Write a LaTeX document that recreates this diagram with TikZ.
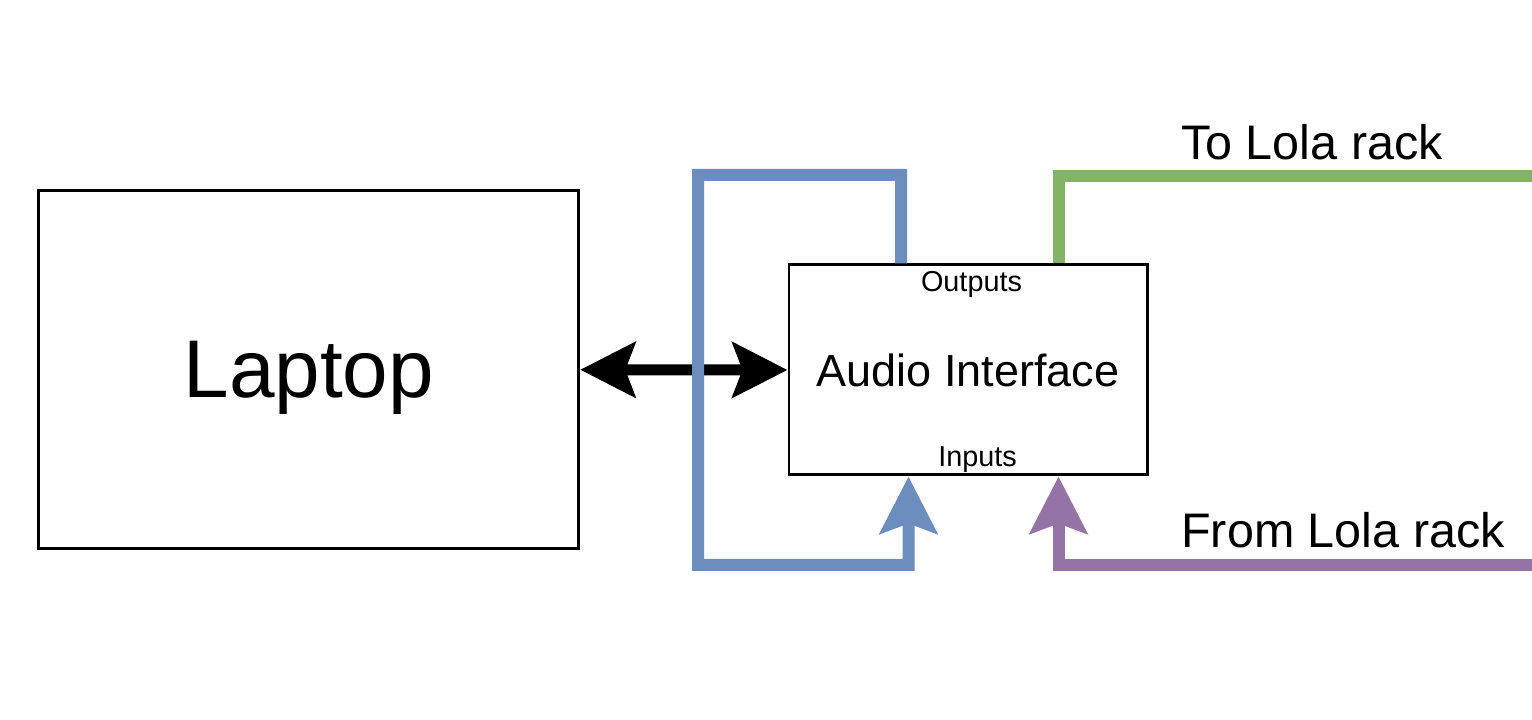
\documentclass[tikz,border=0pt]{standalone}
\usepackage{fontspec}
\setmainfont{Liberation Sans}
\usetikzlibrary{positioning}
\usetikzlibrary{arrows.meta}
\definecolor{wireblue}{HTML}{6C8EBF}
\definecolor{wiregreen}{HTML}{82B366}
\definecolor{wirepurple}{HTML}{9673A6}

\begin{document}
\begin{tikzpicture}
[device/.style = {rectangle, draw = black, line width = 0.85pt, inner sep = 0pt},
wire/.style = {line width = 0.12cm, line join = miter},
bluewire/.style = {wire, draw = wireblue},
greenwire/.style = {wire, draw = wiregreen},
purplewire/.style = {wire, draw = wirepurple},
intip/.style = {-{Stealth[length = 0.57cm, width = 0.57cm, inset = 0.1cm]}},
link/.style = {line width = 0.11cm, {Stealth[length = 0.55cm, width = 0.55cm, inset = 0.1cm]}-{Stealth[length = 0.55cm, width = 0.55cm, inset = 0.1cm]}},
port/.style = {font = \fontsize{8.2}{10}\selectfont, anchor = base},
rack/.style = {font = \fontsize{13.8}{17}\selectfont, anchor = base}]

\useasboundingbox (0, 0) rectangle (15.32, 7.2);

\node[device, minimum width = 5.40cm, minimum height = 3.585cm, text depth = 0pt, font = \fontsize{23.3}{28}\selectfont] (laptop) at (3.0875, 3.5025) {Laptop};
\node[device, minimum width = 3.58cm, minimum height = 2.10cm, font = \fontsize{12.8}{16}\selectfont] (audio) at (9.68, 3.50) {Audio Interface};
\node[port] (outputs) at ([xshift = 0.035cm, yshift = -0.28cm]audio.north) {Outputs};
\node[port] (inputs) at ([xshift = 0.095cm, yshift = 0.10cm]audio.south) {Inputs};

\coordinate (bluetop) at (6.98, 5.45);
\coordinate (bluebot) at (9.085, 1.55);
\coordinate (greenend) at (15.32, 5.44);
\coordinate (purpleend) at (15.32, 1.545);

\draw[link] (laptop.east) -- (audio.west);

% loop back
\draw[bluewire, intip] ([xshift = -0.67cm]audio.north) |- (bluetop) |- (bluebot) -- ([xshift = -0.595cm]audio.south);

% rack
\draw[greenwire] ([xshift = 0.905cm]audio.north) |- (greenend);
\draw[purplewire, intip] (purpleend) -| ([xshift = 0.905cm]audio.south);
\node[rack] (tolola) at (13.12, 5.60) {To Lola rack};
\node[rack] (fromlola) at (13.43, 1.72) {From Lola rack};
\end{tikzpicture}
\end{document}
